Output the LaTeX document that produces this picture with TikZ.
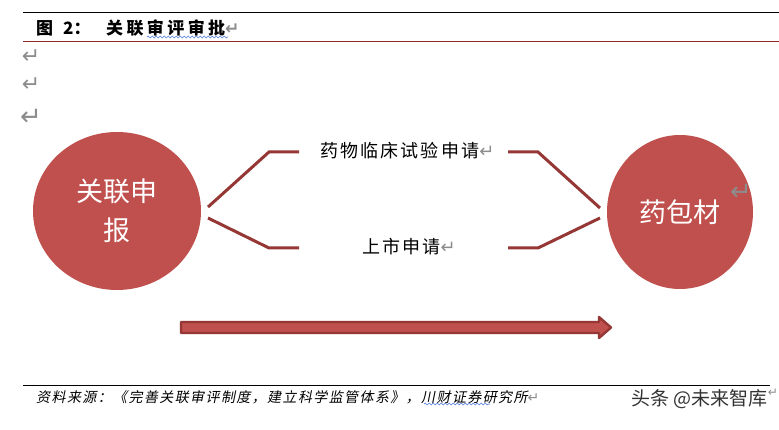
\documentclass[tikz,border=0pt]{standalone}
\usepackage{fontspec}
\setmainfont{Noto Sans CJK SC}
\newfontfamily\cjkspaced[LetterSpace=12]{Noto Sans CJK SC}
\newfontfamily\cjktitle[LetterSpace=20]{Noto Sans CJK SC}
\newfontfamily\cjkslant[FakeSlant=0.2,LetterSpace=10]{Noto Sans CJK SC}
\newfontfamily\symfont{DejaVu Sans}
\usetikzlibrary{shapes.geometric,decorations.pathmorphing}
\definecolor{accred}{HTML}{C0504D}
\definecolor{linered}{HTML}{953735}
\definecolor{darkred}{HTML}{8A2E2C}
\definecolor{retgrey}{HTML}{8C8C8C}
\definecolor{wavyblue}{HTML}{4F7BD9}
\newcommand{\retmark}{{\symfont\color{retgrey}\char"21B5}}
\tikzset{
  bubble/.style={ellipse, fill=accred, draw=none, inner sep=0pt, text=white, align=center,
    font=\fontsize{27}{39}\selectfont},
  connector/.style={draw=linered, line width=3pt},
  midlabel/.style={font=\cjkspaced\fontsize{18}{18}\selectfont, inner sep=0pt},
  rule/.style={line width=0.8pt},
  wavy/.style={draw=wavyblue, line width=0.6pt, decorate, decoration={snake, amplitude=0.9pt, segment length=4pt}},
  retnode/.style={font=\fontsize{22}{22}\selectfont, inner sep=0pt}
}
\begin{document}
\begin{tikzpicture}[x=1pt,y=-1pt]
\useasboundingbox (0,0) rectangle (779,430);
\fill[white] (0,0) rectangle (779,430);
% header
\draw[rule, black] (23,12) -- (779,12);
\node[anchor=west, inner sep=0pt, font=\fontsize{17}{17}\selectfont\bfseries] (t1) at (36,28) {图\hspace{10pt}2：};
\node[anchor=west, inner sep=0pt, font=\cjktitle\fontsize{17}{17}\selectfont\bfseries] (t2) at (106,28) {关联审评审批\retmark};
\draw[wavy] (147,37) -- (228,37);
\draw[line width=0.8pt, darkred] (23,41) -- (779,41);
% paragraph marks
\node[retnode] (r1) at (31,57) {\retmark};
\node[retnode] (r2) at (31,85) {\retmark};
\node[retnode, font=\fontsize{26}{26}\selectfont] (r3) at (31,117) {\retmark};
% circles
\node[bubble, minimum width=168pt, minimum height=158pt] (L) at (117,211) {关联申\\报};
\node[bubble, minimum width=146pt, minimum height=154pt] (R) at (680,212) {药包材};
\node[retnode, font=\fontsize{26}{26}\selectfont] (r4) at (741,192) {\retmark};
% labels
\node[midlabel, anchor=west] (A) at (320,151) {药物临床试验申请\retmark};
\node[midlabel, anchor=west] (B) at (362,247) {上市申请\retmark};
% connectors
\coordinate (l1) at (208,207);
\coordinate (l2) at (208,218);
\coordinate (r1s) at (600,208);
\coordinate (r2s) at (600,218);
\draw[connector] (l1) -- (269,152) -- (299,152);
\draw[connector] (l2) -- (269,248) -- (299,248);
\draw[connector] (508,152) -- (538,152) -- (r1s);
\draw[connector] (508,248) -- (538,248) -- (r2s);
% big arrow
\filldraw[fill=accred, draw=linered, line width=2.4pt, line join=round]
  (181,322) -- (599,322) -- (599,317) -- (611,327.5) -- (599,338) -- (599,333) -- (181,333) -- cycle;
% footer
\draw[rule, black] (23,385) -- (770,385);
\node[anchor=west, inner sep=0pt, font=\cjkslant\fontsize{14}{14}\selectfont] (src) at (36,397) {资料来源：《完善关联审评制度，建立科学监管体系》，川财证券研究所\retmark};
\draw[wavy] (424,404) -- (490,404);
\node[anchor=east, inner sep=0pt, text=black!80, font=\fontsize{19}{19}\selectfont] (wm) at (768,399) {头条 @未来智库};
\node[retnode, font=\fontsize{12}{12}\selectfont] (r5) at (773,393) {\retmark};
\end{tikzpicture}
\end{document}
